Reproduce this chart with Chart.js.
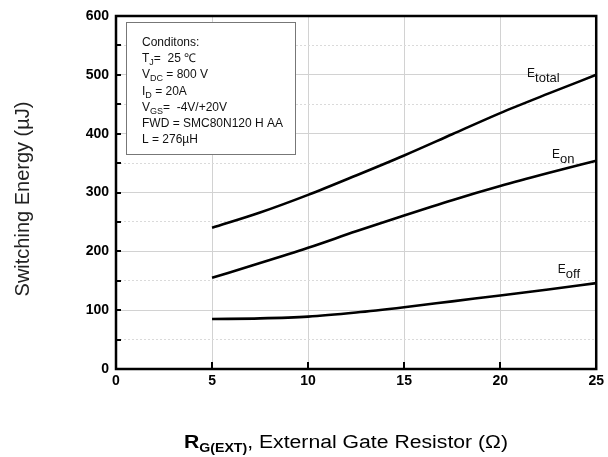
<!DOCTYPE html>
<html>
<head>
  <title>Switching Energy vs External Gate Resistor</title>
  <script src="https://cdn.jsdelivr.net/npm/chart.js@4"></script>
  <style>
    html, body { margin: 0; padding: 0; background: #fff; }
    #wrap { width: 608px; height: 457px; }
  </style>
</head>
<body>
<div id="wrap"><canvas id="myChart" width="608" height="457"></canvas></div>
<script>
  // values
  const rgValues = [5, 7.5, 10, 12.5, 15, 17.5, 20, 22.5, 25];
  const eTotal = [240, 266, 296, 329, 363, 399, 435, 468, 500];
  const eOn = [155, 180, 206, 234, 261, 287, 311, 333, 354];
  const eOff = [85, 86, 89, 96, 105, 115, 125, 135, 146];

  const xTicks = [0, 5, 10, 15, 20, 25];
  const yTicks = [0, 100, 200, 300, 400, 500, 600];

  const conditions = [
    [['Conditons:']],
    [['T'], ['J', 1], ['=  25 \u2103']],
    [['V'], ['DC', 1], [' = 800 V']],
    [['I'], ['D', 1], [' = 20A']],
    [['V'], ['GS', 1], ['=  -4V/+20V']],
    [['FWD = SMC80N120 H AA']],
    [['L = 276\u00b5H']]
  ];

  const curveLabels = [
    { sub: 'total', x: 21.4, y: 497 },
    { sub: 'on', x: 22.7, y: 358 },
    { sub: 'off', x: 23.0, y: 163 }
  ];

  const FONT = '"Liberation Sans", Arial, sans-serif';

  function toPoints(ys) {
    return rgValues.map((x, i) => ({ x: x, y: ys[i] }));
  }

  // draws text pieces, pieces flagged 1 are subscripts
  function drawPieces(ctx, pieces, x, y, size, bold, subSize, subDrop) {
    pieces.forEach(p => {
      const isSub = p[1] === 1;
      ctx.font = (bold ? 'bold ' : '') + (isSub ? subSize : size) + 'px ' + FONT;
      ctx.fillText(p[0], x, isSub ? y + subDrop : y);
      x += ctx.measureText(p[0]).width;
    });
    return x;
  }

  const decorations = {
    id: 'decorations',
    afterDraw(chart) {
      const ctx = chart.ctx;
      const area = chart.chartArea;
      const xs = chart.scales.x;
      const ys = chart.scales.y;
      ctx.save();

      // inward tick marks
      ctx.strokeStyle = '#000';
      ctx.lineWidth = 2;
      ctx.beginPath();
      for (let v = 50; v < 600; v += 50) {
        const py = Math.round(ys.getPixelForValue(v));
        ctx.moveTo(area.left, py);
        ctx.lineTo(area.left + 5, py);
      }
      for (let v = 5; v < 25; v += 5) {
        const px = Math.round(xs.getPixelForValue(v));
        ctx.moveTo(px, area.bottom);
        ctx.lineTo(px, area.bottom - 7);
      }
      ctx.stroke();

      // frame
      ctx.lineWidth = 2.5;
      ctx.strokeRect(area.left, area.top, area.right - area.left, area.bottom - area.top);

      // conditions box
      ctx.fillStyle = '#fff';
      ctx.fillRect(area.left + 10, area.top + 6, 169, 132);
      ctx.strokeStyle = '#777';
      ctx.lineWidth = 1;
      ctx.strokeRect(area.left + 10.5, area.top + 6.5, 169, 132);
      ctx.fillStyle = '#111';
      ctx.textBaseline = 'alphabetic';
      ctx.textAlign = 'left';
      conditions.forEach((line, i) => {
        drawPieces(ctx, line, area.left + 26, area.top + 30 + i * 16.2, 12, false, 9, 3);
      });

      // curve names
      curveLabels.forEach(l => {
        const px = xs.getPixelForValue(l.x);
        const py = ys.getPixelForValue(l.y);
        drawPieces(ctx, [['E'], [l.sub, 1]], px, py, 12, false, 13, 5);
      });

      // x axis title, stretched a little to the width of the original
      const rest = ', External Gate Resistor (\u03a9)';
      let w = 0;
      ctx.font = 'bold 18px ' + FONT; w += ctx.measureText('R').width;
      ctx.font = 'bold 12px ' + FONT; w += ctx.measureText('G(EXT)').width;
      ctx.font = '18px ' + FONT; w += ctx.measureText(rest).width;
      const sx = 324 / w;
      ctx.save();
      ctx.translate(346 - 162, 448);
      ctx.scale(sx, 1);
      ctx.fillStyle = '#000';
      let tx = drawPieces(ctx, [['R'], ['G(EXT)', 1]], 0, 0, 18, true, 12, 4);
      ctx.font = '18px ' + FONT;
      ctx.fillText(rest, tx, 0);
      ctx.restore();

      // y axis title
      ctx.translate(29, 199);
      ctx.rotate(-Math.PI / 2);
      ctx.textAlign = 'center';
      ctx.font = '20px ' + FONT;
      ctx.fillStyle = '#222';
      ctx.fillText('Switching Energy (\u00b5J)', 0, 0);

      ctx.restore();
    }
  };

  const lineStyle = {
    borderColor: '#000',
    borderWidth: 2.6,
    pointRadius: 0,
    fill: false,
    cubicInterpolationMode: 'monotone'
  };

  new Chart(document.getElementById('myChart'), {
    type: 'line',
    data: {
      datasets: [
        Object.assign({ label: 'Etotal', data: toPoints(eTotal) }, lineStyle),
        Object.assign({ label: 'Eon', data: toPoints(eOn) }, lineStyle),
        Object.assign({ label: 'Eoff', data: toPoints(eOff) }, lineStyle)
      ]
    },
    options: {
      responsive: false,
      animation: false,
      layout: { padding: { left: 0, top: 16, right: 11, bottom: 0 } },
      plugins: {
        legend: { display: false },
        tooltip: { enabled: false }
      },
      scales: {
        x: {
          type: 'linear',
          min: xTicks[0],
          max: xTicks[xTicks.length - 1],
          afterFit(scale) { scale.height = 88; },
          afterBuildTicks(scale) { scale.ticks = xTicks.map(v => ({ value: v })); },
          ticks: {
            padding: 4,
            color: '#000',
            font: { family: FONT, size: 14, weight: 'bold' }
          },
          grid: {
            drawTicks: false,
            color: ctx => (ctx.tick && ctx.tick.value > 0 && ctx.tick.value < 25) ? '#d2d2d2' : 'rgba(0,0,0,0)',
            lineWidth: 1
          },
          border: { display: false }
        },
        y: {
          min: yTicks[0],
          max: yTicks[yTicks.length - 1],
          afterFit(scale) { scale.width = 116; },
          ticks: {
            stepSize: 50,
            padding: 7,
            color: '#000',
            font: { family: FONT, size: 14, weight: 'bold' },
            callback: v => (yTicks.includes(v) ? v : '')
          },
          grid: {
            drawTicks: false,
            color: ctx => {
              if (!ctx.tick || ctx.tick.value <= 0 || ctx.tick.value >= 600) return 'rgba(0,0,0,0)';
              return ctx.tick.value % 100 === 0 ? '#d2d2d2' : '#dadada';
            },
            lineWidth: 1
          },
          border: {
            display: false,
            dash: ctx => (ctx.tick && ctx.tick.value % 100 !== 0) ? [2, 2] : []
          }
        }
      }
    },
    plugins: [decorations]
  });
</script>
</body>
</html>
